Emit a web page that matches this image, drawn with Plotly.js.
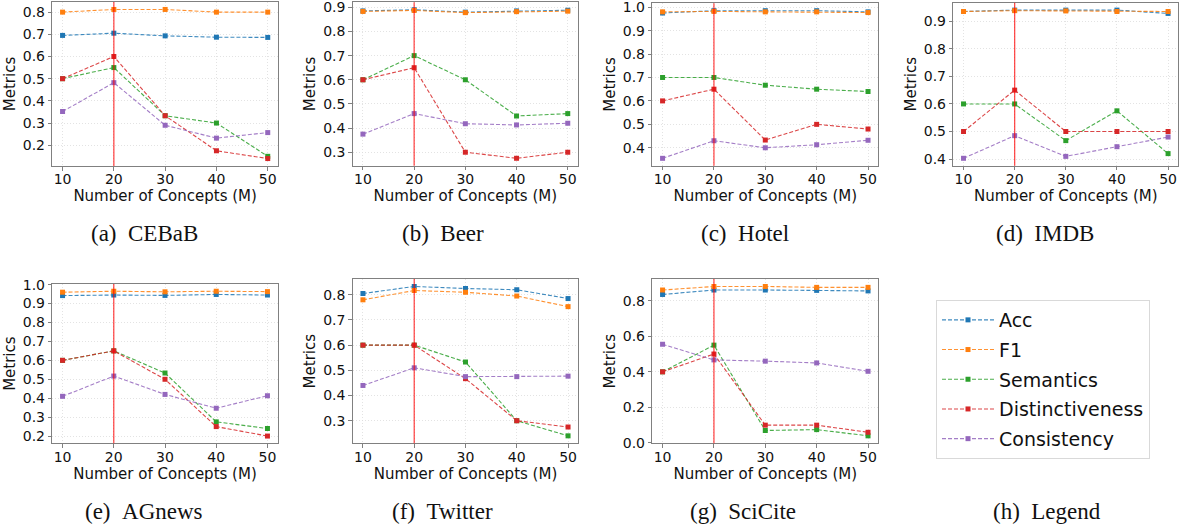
<!DOCTYPE html>
<html>
<head>
<meta charset="utf-8">
<script src="https://cdn.plot.ly/plotly-3.0.1.min.js"></script>
<style>
  html, body { margin: 0; padding: 0; background: #fff; }
  #chart { width: 1185px; height: 530px; }
</style>
</head>
<body>
<div id="chart"></div>
<script>
// ---------------- DATA ----------------
const numConcepts = [10, 20, 30, 40, 50];
const metricNames = ["Acc", "F1", "Semantics", "Distinctiveness", "Consistency"];
const datasetNames = ["CEBaB", "Beer", "Hotel", "IMDB", "AGnews", "Twitter", "SciCite"];
const captionLabels = ["(a)\u00a0\u00a0CEBaB", "(b)\u00a0\u00a0Beer", "(c)\u00a0\u00a0Hotel", "(d)\u00a0\u00a0IMDB", "(e)\u00a0\u00a0AGnews", "(f)\u00a0\u00a0Twitter", "(g)\u00a0\u00a0SciCite", "(h)\u00a0\u00a0Legend"];
const highlightM = 20;

// rows: Acc, F1, Semantics, Distinctiveness, Consistency
const cebabValues = [
  [0.695, 0.705, 0.693, 0.687, 0.686],
  [0.800, 0.812, 0.812, 0.800, 0.800],
  [0.500, 0.550, 0.333, 0.300, 0.150],
  [0.500, 0.600, 0.333, 0.175, 0.140],
  [0.352, 0.482, 0.290, 0.232, 0.257]
];
const beerValues = [
  [0.885, 0.890, 0.880, 0.885, 0.888],
  [0.883, 0.887, 0.878, 0.882, 0.884],
  [0.600, 0.700, 0.600, 0.450, 0.460],
  [0.600, 0.650, 0.300, 0.275, 0.300],
  [0.375, 0.460, 0.418, 0.413, 0.420]
];
const hotelValues = [
  [0.975, 0.985, 0.985, 0.985, 0.980],
  [0.980, 0.982, 0.980, 0.980, 0.977],
  [0.700, 0.700, 0.667, 0.650, 0.640],
  [0.600, 0.650, 0.433, 0.500, 0.480],
  [0.355, 0.430, 0.400, 0.413, 0.432]
];
const imdbValues = [
  [0.935, 0.940, 0.940, 0.940, 0.928],
  [0.935, 0.938, 0.937, 0.935, 0.935],
  [0.600, 0.600, 0.467, 0.575, 0.420],
  [0.500, 0.650, 0.500, 0.500, 0.500],
  [0.403, 0.485, 0.410, 0.445, 0.480]
];
const agnewsValues = [
  [0.942, 0.945, 0.943, 0.948, 0.945],
  [0.960, 0.965, 0.962, 0.965, 0.963],
  [0.600, 0.650, 0.533, 0.275, 0.240],
  [0.600, 0.650, 0.500, 0.250, 0.200],
  [0.410, 0.517, 0.420, 0.347, 0.413]
];
const twitterValues = [
  [0.805, 0.833, 0.825, 0.820, 0.785],
  [0.780, 0.817, 0.810, 0.795, 0.753],
  [0.600, 0.600, 0.533, 0.300, 0.240],
  [0.600, 0.600, 0.467, 0.300, 0.275],
  [0.440, 0.510, 0.475, 0.475, 0.477]
];
const sciciteValues = [
  [0.835, 0.860, 0.860, 0.858, 0.855],
  [0.860, 0.880, 0.880, 0.875, 0.875],
  [0.400, 0.550, 0.070, 0.075, 0.040],
  [0.400, 0.500, 0.100, 0.100, 0.060],
  [0.555, 0.467, 0.460, 0.450, 0.403]
];
const yTickStep = [0.1, 0.1, 0.1, 0.1, 0.1, 0.1, 0.2];

// ---------------- STYLE / LAYOUT ----------------
const allValues = [cebabValues, beerValues, hotelValues, imdbValues, agnewsValues, twitterValues, sciciteValues];
const lineColors = ["rgba(31,119,180,0.85)", "rgba(255,127,14,0.85)", "rgba(44,160,44,0.85)", "rgba(214,39,40,0.85)", "rgba(148,103,189,0.85)"];
const markerColors = ["#1f77b4", "#ff7f0e", "#2ca02c", "#d62728", "#9467bd"];
const FONT = "DejaVu Sans, Verdana, sans-serif";

const W = 1185, H = 530;
// panel frames in pixels [left, right, top, bottom]
const frames = [
  [52.3, 278.0, 2.0, 166.0],
  [352.7, 578.0, 2.3, 165.7],
  [652.3, 878.3, 3.3, 165.7],
  [953.3, 1178.3, 2.7, 165.7],
  [52.3, 277.7, 284.0, 443.3],
  [352.7, 578.3, 279.0, 443.3],
  [652.3, 878.3, 279.0, 443.3]
];
const captionPos = [[144, 233], [443, 233], [745, 233], [1045, 233], [144, 511], [443, 511], [743, 511], [1047, 511]];

const traces = [];
const layout = {
  width: W, height: H,
  margin: {l: 0, r: 0, t: 0, b: 0},
  paper_bgcolor: "#fff",
  plot_bgcolor: "#fff",
  font: {family: FONT, color: "#000"},
  showlegend: true,
  legend: {
    x: 936 / W, y: 1 - 300 / H, xanchor: "left", yanchor: "top",
    bordercolor: "#d9d9d9", borderwidth: 1, bgcolor: "#fff",
    font: {size: 19, family: FONT, color: "#111"},
    itemwidth: 52, traceorder: "grouped", tracegroupgap: 2
  },
  shapes: [],
  annotations: []
};

allValues.forEach((vals, p) => {
  const k = p + 1;
  const xa = "x" + (k === 1 ? "" : k), ya = "y" + (k === 1 ? "" : k);
  vals.forEach((series, m) => {
    traces.push({
      x: numConcepts, y: series,
      xaxis: xa, yaxis: ya,
      type: "scatter", mode: "lines+markers",
      name: metricNames[m],
      legendgroup: metricNames[m],
      showlegend: p === 0,
      line: {color: lineColors[m], width: 1.1, dash: "4px,2px"},
      marker: {symbol: "square", size: 5, color: markerColors[m]},
      cliponaxis: false
    });
  });
  // autoscale like matplotlib (5% margins)
  const flat = vals.flat();
  const mn = Math.min(...flat), mx = Math.max(...flat);
  const pad = (mx - mn) * 0.05;
  const xmn = Math.min(...numConcepts), xmx = Math.max(...numConcepts);
  const xpad = (xmx - xmn) * 0.05;
  const f = frames[p];
  const axisCommon = {
    showline: true, mirror: true, linecolor: "#808080", linewidth: 1,
    ticks: "outside", ticklen: 3.5, tickcolor: "#808080", tickwidth: 1,
    showgrid: true, gridcolor: "#dcdcdc", griddash: "1px,2px", gridwidth: 0.8,
    zeroline: false, ticklabeloverflow: "allow",
    tickfont: {size: 14, family: FONT, color: "#111"}
  };
  layout["xaxis" + (k === 1 ? "" : k)] = Object.assign({}, axisCommon, {
    domain: [f[0] / W, f[1] / W],
    anchor: ya,
    range: [xmn - xpad, xmx + xpad],
    tickvals: numConcepts,
    ticklabelstandoff: -3,
    title: {text: "Number of Concepts (M)", font: {size: 15, family: FONT, color: "#111"}, standoff: 0}
  });
  layout["yaxis" + (k === 1 ? "" : k)] = Object.assign({}, axisCommon, {
    domain: [1 - f[3] / H, 1 - f[2] / H],
    anchor: xa,
    range: [mn - pad, mx + pad],
    tick0: 0, dtick: yTickStep[p], tickformat: ".1f",
    title: {text: "Metrics", font: {size: 15, family: FONT, color: "#111"}, standoff: 3}
  });
  layout.shapes.push({
    type: "line", xref: xa, yref: ya + " domain",
    x0: highlightM, x1: highlightM, y0: 0, y1: 1,
    line: {color: "rgba(255,0,0,0.7)", width: 1.3}
  });
});

captionLabels.forEach((txt, i) => {
  layout.annotations.push({
    text: txt, xref: "paper", yref: "paper",
    x: captionPos[i][0] / W, y: 1 - captionPos[i][1] / H,
    xanchor: "center", yanchor: "middle", showarrow: false,
    font: {family: "Liberation Serif", size: 23, color: "#111"}
  });
});

Plotly.newPlot("chart", traces, layout, {displayModeBar: false, staticPlot: true});
</script>
</body>
</html>
